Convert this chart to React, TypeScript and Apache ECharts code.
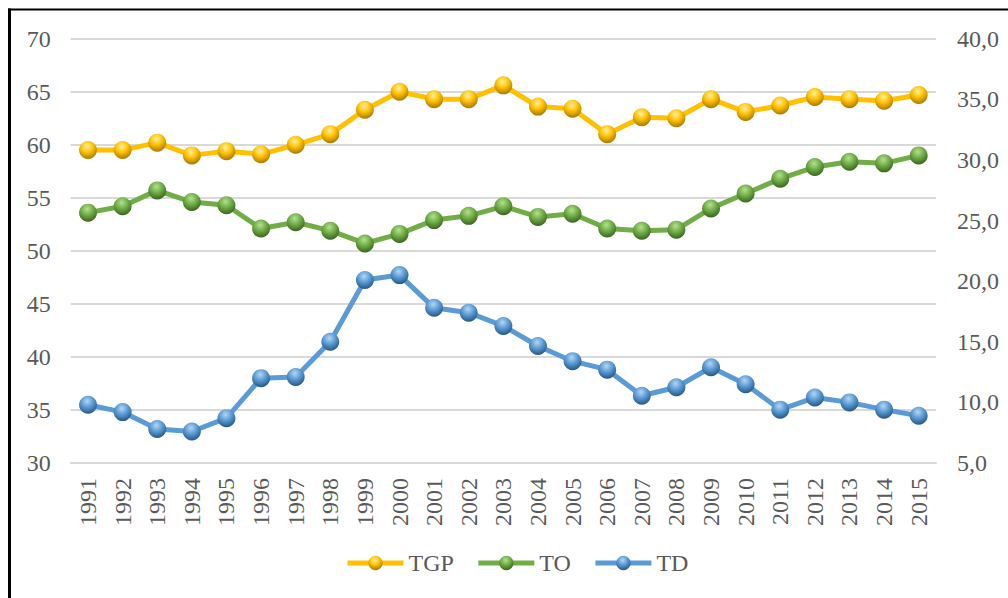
import React, { useEffect, useRef } from "react";
import * as echarts from "echarts";

const years = [
  "1991", "1992", "1993", "1994", "1995", "1996", "1997", "1998", "1999", "2000",
  "2001", "2002", "2003", "2004", "2005", "2006", "2007", "2008", "2009", "2010",
  "2011", "2012", "2013", "2014", "2015",
];
const tgp = [
  59.5, 59.5, 60.2, 59.0, 59.4, 59.1, 60.0, 61.0, 63.3, 65.0,
  64.3, 64.3, 65.6, 63.6, 63.4, 61.0, 62.6, 62.5, 64.3, 63.1,
  63.7, 64.5, 64.3, 64.15, 64.7,
];
const to = [
  53.6, 54.2, 55.7, 54.6, 54.3, 52.1, 52.7, 51.9, 50.7, 51.6,
  52.9, 53.3, 54.2, 53.2, 53.5, 52.1, 51.9, 52.0, 54.0, 55.4,
  56.8, 57.9, 58.4, 58.25, 59.0,
];
const td = [
  9.8, 9.2, 7.8, 7.6, 8.7, 12.0, 12.1, 15.0, 20.1, 20.5,
  17.8, 17.4, 16.3, 14.65, 13.4, 12.7, 10.55, 11.25, 12.9, 11.5,
  9.4, 10.4, 10.0, 9.4, 8.9,
];

const FONT = "Times New Roman, Liberation Serif, serif";
const TXT = "#595959";

function ball(light: string, base: string, dark: string) {
  return new echarts.graphic.RadialGradient(0.45, 0.3, 0.75, [
    { offset: 0, color: light },
    { offset: 0.45, color: base },
    { offset: 1, color: dark },
  ]);
}

function mkSeries(name: string, data: number[], color: string, light: string, dark: string, yAxisIndex: number) {
  return {
    name,
    type: "line",
    yAxisIndex,
    data,
    symbol: "circle",
    symbolSize: 18,
    lineStyle: { color, width: 5 },
    itemStyle: { color: ball(light, color, dark), borderWidth: 0 },
  };
}

export default function App() {
  const ref = useRef<HTMLDivElement>(null);
  useEffect(() => {
    if (!ref.current) return;
    const chart = echarts.init(ref.current, null, { renderer: "svg" });
    chart.setOption({
      animation: false,
      backgroundColor: "#ffffff",
      textStyle: { fontFamily: FONT },
      graphic: [
        { type: "line", shape: { x1: 8, y1: 9.5, x2: 1008, y2: 9.5 }, style: { stroke: "#000", lineWidth: 2 } },
        { type: "line", shape: { x1: 9.5, y1: 8.5, x2: 9.5, y2: 598 }, style: { stroke: "#000", lineWidth: 3 } },
      ],
      grid: { left: 70.7, right: 72, top: 38.7, bottom: 135, containLabel: false },
      legend: {
        left: 340,
        top: 546,
        itemWidth: 56,
        itemHeight: 18,
        itemGap: 22,
        lineStyle: { width: 5 },
        textStyle: { fontFamily: FONT, fontSize: 24, color: TXT },
        data: ["TGP", "TO", "TD"],
      },
      xAxis: {
        type: "category",
        data: years,
        boundaryGap: true,
        axisLine: { show: true, lineStyle: { color: "#D9D9D9", width: 2 } },
        axisTick: { show: false },
        axisLabel: { rotate: 90, fontFamily: FONT, fontSize: 24, color: TXT, margin: 15 },
      },
      yAxis: [
        {
          type: "value",
          min: 30,
          max: 70,
          interval: 5,
          axisLine: { show: false },
          axisTick: { show: false },
          splitLine: { lineStyle: { color: "#D9D9D9", width: 2 } },
          axisLabel: { fontFamily: FONT, fontSize: 24, color: TXT, margin: 20 },
        },
        {
          type: "value",
          min: 5,
          max: 40,
          interval: 5,
          axisLine: { show: false },
          axisTick: { show: false },
          splitLine: { show: false },
          axisLabel: {
            fontFamily: FONT,
            fontSize: 24,
            color: TXT,
            margin: 21,
            formatter: (v: number) => v.toFixed(1).replace(".", ","),
          },
        },
      ],
      series: [
        mkSeries("TGP", tgp, "#FFC000", "#FFF2A0", "#9C6F00", 0),
        mkSeries("TO", to, "#70AD47", "#B5E08F", "#335A1A", 0),
        mkSeries("TD", td, "#5B9BD5", "#B4D6F2", "#1F4E79", 1),
      ],
    });
    return () => chart.dispose();
  }, []);
  return (
    <div
      ref={ref}
      style={{ position: "fixed", left: 0, top: 0, width: 1008, height: 598 }}
    />
  );
}
